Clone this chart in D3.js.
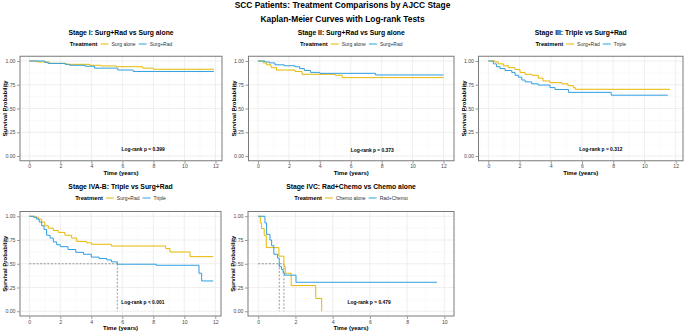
<!DOCTYPE html>
<html>
<head>
<meta charset="utf-8">
<script src="https://cdn.jsdelivr.net/npm/d3@7"></script>
<style>
  body { margin: 0; background: #fff; }
  text { font-family: "Liberation Sans", Arial, sans-serif; }
</style>
</head>
<body>
<script>
// survival curves: [time (years), survival probability]
const stage1SurgAlone = [[0,1],[0.5,0.99],[1.3,0.975],[2.4,0.965],[3.9,0.955],[4.6,0.948],[5.6,0.94],[7.3,0.925],[8.0,0.913],[11.9,0.913]];
const stage1SurgRad = [[0,1],[1.0,0.985],[1.2,0.975],[2.3,0.965],[2.6,0.955],[3.6,0.945],[4.2,0.925],[5.7,0.905],[6.7,0.89],[11.9,0.89]];

const stage2SurgAlone = [[0,1],[0.35,0.98],[0.55,0.96],[0.85,0.93],[1.2,0.905],[2.4,0.89],[2.85,0.86],[5.0,0.85],[5.45,0.825],[12.0,0.825]];
const stage2SurgRad = [[0,1],[0.45,0.99],[0.75,0.98],[1.1,0.96],[1.7,0.95],[2.4,0.94],[2.7,0.92],[3.0,0.90],[3.4,0.88],[4.0,0.87],[7.6,0.853],[12.0,0.853]];

const stage3SurgRad = [[0,1],[0.43,0.99],[0.64,0.97],[0.96,0.95],[1.28,0.93],[1.71,0.91],[2.03,0.88],[2.35,0.86],[2.78,0.85],[3.2,0.82],[3.5,0.79],[3.95,0.772],[4.7,0.76],[5.1,0.74],[5.45,0.72],[5.56,0.702],[11.65,0.702]];
const stage3Triple = [[0,1],[0.32,0.97],[0.53,0.94],[0.75,0.92],[1.07,0.90],[1.5,0.88],[1.71,0.85],[1.92,0.83],[2.14,0.80],[2.35,0.78],[2.78,0.76],[3.2,0.747],[3.95,0.72],[4.27,0.70],[5.13,0.67],[7.87,0.64],[11.5,0.64]];

const stage4abSurgRad = [[0,1],[0.37,0.99],[0.58,0.97],[0.8,0.94],[1.0,0.90],[1.23,0.874],[1.55,0.85],[1.87,0.83],[2.3,0.80],[2.73,0.77],[3.06,0.735],[3.7,0.72],[4.02,0.705],[5.3,0.687],[8.8,0.66],[9.08,0.624],[10.37,0.575],[11.87,0.575]];
const stage4abTriple = [[0,1],[0.26,0.99],[0.47,0.97],[0.64,0.94],[0.8,0.90],[0.95,0.86],[1.12,0.80],[1.34,0.77],[1.55,0.73],[1.77,0.70],[2.0,0.68],[2.5,0.65],[3.0,0.62],[3.5,0.60],[4.0,0.57],[4.5,0.555],[5.0,0.54],[5.3,0.52],[5.68,0.495],[8.2,0.484],[10.95,0.40],[11.12,0.319],[11.87,0.319]];

const stage4cChemo = [[0,1],[0.11,0.93],[0.18,0.87],[0.32,0.80],[0.43,0.67],[1.11,0.58],[1.38,0.47],[1.45,0.40],[1.77,0.27],[3.09,0.135],[3.41,0]];
const stage4cRadChemo = [[0,1],[0.36,0.93],[0.45,0.81],[0.63,0.75],[0.72,0.69],[0.84,0.60],[1.04,0.56],[1.13,0.47],[1.25,0.44],[1.34,0.40],[1.42,0.38],[2.03,0.305],[9.6,0.305]];

const panelTitles = ["Stage I: Surg+Rad vs Surg alone", "Stage II: Surg+Rad vs Surg alone", "Stage III: Triple vs Surg+Rad", "Stage IVA-B: Triple vs Surg+Rad", "Stage IVC: Rad+Chemo vs Chemo alone"];
const legendLabels = [["Surg alone","Surg+Rad"],["Surg alone","Surg+Rad"],["Surg+Rad","Triple"],["Surg+Rad","Triple"],["Chemo alone","Rad+Chemo"]];
const pValues = ["Log-rank p = 0.399", "Log-rank p = 0.373", "Log-rank p = 0.312", "Log-rank p < 0.001", "Log-rank p = 0.479"];
const yTicks = [0, 0.25, 0.5, 0.75, 1];
const xTicks12 = [0, 2, 4, 6, 8, 10, 12];
const xTicks10 = [0, 2, 4, 6, 8, 10];

const colors = ["#E7B800", "#2E9FDF"];

const W = 685, H = 332;
const svg = d3.select("body").append("svg")
  .attr("width", W).attr("height", H)
  .style("background", "#fff");

svg.append("text").attr("x", W/2).attr("y", 5).attr("dy", "0.35em")
  .attr("text-anchor", "middle").style("font-size", "8.4px").style("font-weight", "bold")
  .text("SCC Patients: Treatment Comparisons by AJCC Stage");
svg.append("text").attr("x", W/2).attr("y", 19).attr("dy", "0.35em")
  .attr("text-anchor", "middle").style("font-size", "8.4px").style("font-weight", "bold")
  .text("Kaplan-Meier Curves with Log-rank Tests");

// panel layout (pixels)
const rows = [{top: 56.25, bottom: 160.75, title: 33, legend: 44},
              {top: 211.5, bottom: 316, title: 187, legend: 198}];
const layout = [
  {row: 0, left: 20, right: 222, xd: [-0.6, 12.42], ticks: xTicks12, series: [stage1SurgAlone, stage1SurgRad], pY: 0.07},
  {row: 0, left: 248.5, right: 454, xd: [-0.61, 12.68], ticks: xTicks12, series: [stage2SurgAlone, stage2SurgRad], pY: 0.065},
  {row: 0, left: 478.5, right: 683, xd: [-0.63, 12.47], ticks: xTicks12, series: [stage3SurgRad, stage3Triple], pY: 0.07},
  {row: 1, left: 20, right: 221, xd: [-0.6, 12.37], ticks: xTicks12, series: [stage4abSurgRad, stage4abTriple], pY: 0.09, median: true},
  {row: 1, left: 248, right: 454, xd: [-0.55, 10.52], ticks: xTicks10, series: [stage4cChemo, stage4cRadChemo], pY: 0.09, median: true}
];

function median(d) {
  const p = d.find(e => e[1] <= 0.5);
  return p ? p[0] : null;
}

layout.forEach(function(p, i) {
  const r = rows[p.row];
  const x = d3.scaleLinear().domain(p.xd).range([p.left, p.right]);
  const y = d3.scaleLinear().domain([-0.05, 1.05]).range([r.bottom, r.top]);
  const g = svg.append("g");
  const cx = (p.left + p.right) / 2;

  // grid
  const xMinor = d3.range(p.ticks[0] - 1, p.ticks[p.ticks.length-1] + 2, 2).filter(v => v >= p.xd[0] && v <= p.xd[1]);
  const yMinor = [0.125, 0.375, 0.625, 0.875];
  g.selectAll(".xmin").data(xMinor).enter().append("line")
    .attr("x1", d => x(d)).attr("x2", d => x(d)).attr("y1", r.top).attr("y2", r.bottom)
    .attr("stroke", "#f4f4f4").attr("stroke-width", 0.5);
  g.selectAll(".ymin").data(yMinor).enter().append("line")
    .attr("x1", p.left).attr("x2", p.right).attr("y1", d => y(d)).attr("y2", d => y(d))
    .attr("stroke", "#f4f4f4").attr("stroke-width", 0.5);
  g.selectAll(".xmaj").data(p.ticks).enter().append("line")
    .attr("x1", d => x(d)).attr("x2", d => x(d)).attr("y1", r.top).attr("y2", r.bottom)
    .attr("stroke", "#ebebeb").attr("stroke-width", 0.8);
  g.selectAll(".ymaj").data(yTicks).enter().append("line")
    .attr("x1", p.left).attr("x2", p.right).attr("y1", d => y(d)).attr("y2", d => y(d))
    .attr("stroke", "#ebebeb").attr("stroke-width", 0.8);

  // median lines
  if (p.median) {
    const meds = p.series.map(median).filter(m => m !== null);
    const mMax = d3.max(meds);
    g.append("line").attr("x1", x(0)).attr("x2", x(mMax)).attr("y1", y(0.5)).attr("y2", y(0.5))
      .attr("stroke", "#808080").attr("stroke-width", 0.8).attr("stroke-dasharray", "2,1.6");
    meds.forEach(function(m) {
      g.append("line").attr("x1", x(m)).attr("x2", x(m)).attr("y1", y(0.5)).attr("y2", y(0))
        .attr("stroke", "#808080").attr("stroke-width", 0.8).attr("stroke-dasharray", "2,1.6");
    });
  }

  // curves
  const line = d3.line().x(d => x(d[0])).y(d => y(d[1])).curve(d3.curveStepAfter);
  p.series.forEach(function(s, k) {
    g.append("path").datum(s).attr("d", line)
      .attr("fill", "none").attr("stroke", colors[k]).attr("stroke-width", 1);
  });

  // border
  g.append("rect").attr("x", p.left).attr("y", r.top)
    .attr("width", p.right - p.left).attr("height", r.bottom - r.top)
    .attr("fill", "none").attr("stroke", "#7a7a7a").attr("stroke-width", 1);

  // axes
  const yAxis = d3.axisLeft(y).tickValues(yTicks).tickFormat(d3.format(".2f")).tickSize(2.5).tickPadding(1.5);
  const xAxis = d3.axisBottom(x).tickValues(p.ticks).tickSize(2.5).tickPadding(1);
  const ya = g.append("g").attr("transform", "translate(" + (p.left - 0.5) + ",0)").call(yAxis);
  const xa = g.append("g").attr("transform", "translate(0," + (r.bottom + 0.5) + ")").call(xAxis);
  [ya, xa].forEach(function(a) {
    a.select(".domain").remove();
    a.selectAll(".tick line").attr("stroke", "#555").attr("stroke-width", 0.6);
    a.selectAll(".tick text").attr("fill", "#4d4d4d").style("font-size", "5.2px")
      .style("font-family", "'Liberation Sans', Arial, sans-serif");
  });

  // axis titles
  g.append("text")
    .attr("transform", "translate(" + (p.left - 15) + "," + ((r.top + r.bottom) / 2) + ") rotate(-90)")
    .attr("text-anchor", "middle").attr("dy", "0.35em")
    .style("font-size", "6px").style("font-weight", "bold")
    .text("Survival Probability");
  g.append("text").attr("x", cx).attr("y", r.bottom + 12).attr("dy", "0.35em")
    .attr("text-anchor", "middle")
    .style("font-size", "6px").style("font-weight", "bold")
    .text("Time (years)");

  // p-value
  const maxT = d3.max(p.series, s => d3.max(s, d => d[0]));
  g.append("text").attr("x", x(maxT / 2)).attr("y", y(p.pY)).attr("dy", "0.35em")
    .style("font-size", "4.9px").style("font-weight", "bold")
    .text(pValues[i]);

  // panel title
  g.append("text").attr("x", cx).attr("y", r.title).attr("dy", "0.35em")
    .attr("text-anchor", "middle").style("font-size", "6.8px").style("font-weight", "bold")
    .text(panelTitles[i]);

  // legend
  const lg = g.append("g");
  let pos = 0;
  const t0 = lg.append("text").attr("x", pos).attr("y", 0).attr("dy", "0.35em")
    .style("font-size", "5.8px").style("font-weight", "bold").text("Treatment");
  pos += t0.node().getComputedTextLength() + 3;
  legendLabels[i].forEach(function(lab, k) {
    lg.append("line").attr("x1", pos).attr("x2", pos + 8).attr("y1", 0).attr("y2", 0)
      .attr("stroke", colors[k]).attr("stroke-width", 1);
    pos += 11;
    const t = lg.append("text").attr("x", pos).attr("y", 0).attr("dy", "0.35em")
      .attr("fill", "#333").style("font-size", "5px").text(lab);
    pos += t.node().getComputedTextLength() + 3;
  });
  pos -= 3;
  lg.attr("transform", "translate(" + (cx - pos / 2) + "," + r.legend + ")");
});
</script>
</body>
</html>
